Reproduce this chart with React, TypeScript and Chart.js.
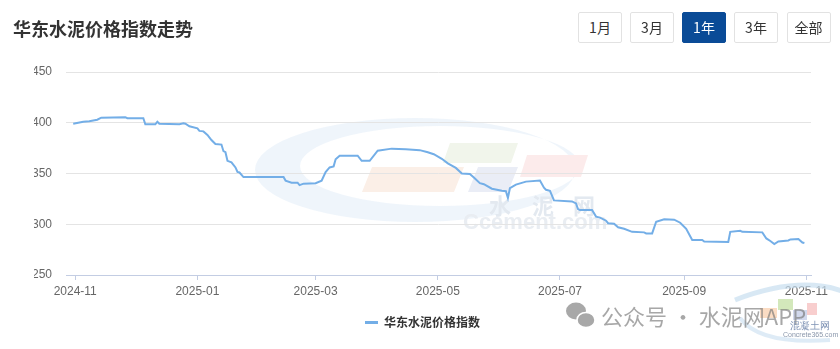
import { useEffect, useRef } from "react";
import { Chart, registerables } from "chart.js";

Chart.register(...registerables);

// ---- data ---------------------------------------------------------------
const seriesName = "华东水泥价格指数";

const dates = [
  "2024-10-31", "2024-11-05", "2024-11-08", "2024-11-12", "2024-11-14", "2024-11-26",
  "2024-11-27", "2024-12-05", "2024-12-06", "2024-12-11", "2024-12-12", "2024-12-13",
  "2024-12-23", "2024-12-25", "2024-12-26", "2024-12-28", "2025-01-01", "2025-01-02",
  "2025-01-04", "2025-01-06", "2025-01-08", "2025-01-10", "2025-01-13", "2025-01-14",
  "2025-01-15", "2025-01-16", "2025-01-18", "2025-01-20", "2025-01-21", "2025-01-22",
  "2025-01-24", "2025-02-13", "2025-02-14", "2025-02-17", "2025-02-20", "2025-02-21",
  "2025-02-23", "2025-03-01", "2025-03-04", "2025-03-06", "2025-03-08", "2025-03-10",
  "2025-03-11", "2025-03-13", "2025-03-22", "2025-03-24", "2025-03-28", "2025-04-01",
  "2025-04-08", "2025-04-15", "2025-04-22", "2025-04-26", "2025-04-29", "2025-05-03",
  "2025-05-06", "2025-05-10", "2025-05-13", "2025-05-17", "2025-05-19", "2025-05-22",
  "2025-05-24", "2025-05-28", "2025-06-02", "2025-06-04", "2025-06-05", "2025-06-06",
  "2025-06-09", "2025-06-14", "2025-06-21", "2025-06-23", "2025-06-24", "2025-06-26",
  "2025-06-28", "2025-07-07", "2025-07-09", "2025-07-10", "2025-07-11", "2025-07-17",
  "2025-07-19", "2025-07-21", "2025-07-24", "2025-07-25", "2025-07-28", "2025-07-30",
  "2025-08-02", "2025-08-06", "2025-08-12", "2025-08-13", "2025-08-16", "2025-08-18",
  "2025-08-22", "2025-08-27", "2025-08-30", "2025-09-02", "2025-09-05", "2025-09-10",
  "2025-09-11", "2025-09-23", "2025-09-24", "2025-09-29", "2025-09-30", "2025-10-10",
  "2025-10-12", "2025-10-14", "2025-10-16", "2025-10-18", "2025-10-23", "2025-10-24",
  "2025-10-28", "2025-10-30", "2025-10-31",
];

const values = [
  399, 401, 401.5, 403, 405, 405.5,
  404.5, 404.5, 398.5, 398.5, 401, 399,
  398.5, 399.5, 399, 396.5, 394.5, 392,
  391.5, 388, 383, 379, 378.5, 372,
  371, 362.5, 361, 356, 351.5, 351,
  346.5, 346.5, 343, 341, 341, 338.5,
  340, 340.5, 343, 351.5, 356, 357,
  364, 367.5, 367.5, 362.5, 362.5, 372.5,
  374.5, 374, 373, 371, 369, 364.5,
  360, 355.5, 350, 349.5, 346, 340.5,
  339.5, 335, 333, 332.5, 326, 335.5,
  339, 342, 343, 336, 334, 333,
  323.5, 322.5, 320.5, 315, 314, 314,
  307.5, 306.5, 303.5, 301, 300.5, 297,
  295.5, 292.5, 292, 291, 291, 302.5,
  305, 304.5, 301.5, 295.5, 284.5, 284.5,
  283, 282.5, 292.5, 293.5, 292.5, 292,
  286, 283.5, 280.5, 283, 284, 285,
  285.5, 282, 281.5,
];

const monthTicks = ["2024-11", "2025-01", "2025-03", "2025-05", "2025-07", "2025-09", "2025-11"];
const yMin = 250;
const yMax = 450;
const yStep = 50;

const rangeButtons = ["1月", "3月", "1年", "3年", "全部"];
const activeRange = "1年";

// ---- helpers ------------------------------------------------------------
const ORIGIN = Date.UTC(2024, 10, 1);
const dayOf = (s: string) => {
  const [y, m, d] = s.split("-").map(Number);
  return (Date.UTC(y, m - 1, d || 1) - ORIGIN) / 86400000;
};

const points = dates.map((d, i) => ({ x: dayOf(d), y: values[i] }));
const tickDays = monthTicks.map(dayOf);

const LINE = "#73aee7";
const AXIS = "#c3cde3";
const LABEL_FONT = "'Liberation Sans', Arial, sans-serif";
const CJK_FONT = "'Noto Sans CJK SC', 'Noto Sans', sans-serif";

// faint site logo behind the plot
const brandMark = {
  id: "brandMark",
  beforeDraw(chart: Chart) {
    const ctx = chart.ctx;
    ctx.save();
    ctx.beginPath();
    ctx.ellipse(415, 170, 160, 52, 0, 0, Math.PI * 2);
    ctx.moveTo(580, 166);
    ctx.ellipse(440, 166, 140, 40, 0, 0, Math.PI * 2);
    ctx.fillStyle = "rgba(226,237,247,0.55)";
    ctx.fill("evenodd");

    const tile = (x1: number, x2: number, top: number, bottom: number, shift: number, color: string) => {
      ctx.beginPath();
      ctx.moveTo(x1, top);
      ctx.lineTo(x2, top);
      ctx.lineTo(x2 - shift, bottom);
      ctx.lineTo(x1 - shift, bottom);
      ctx.closePath();
      ctx.fillStyle = color;
      ctx.fill();
    };
    tile(372, 464, 167, 192, 10, "#fbefe7");
    tile(450, 518, 143, 163, 7, "#f1f5eb");
    tile(478, 518, 167, 192, 10, "#eaedf6");
    tile(527, 588, 155, 177, 7, "#fcebeb");

    ctx.fillStyle = "#e3e9f0";
    ctx.font = `bold 22px ${CJK_FONT}`;
    ctx.textAlign = "center";
    ctx.textBaseline = "middle";
    ctx.fillText("水", 500, 206);
    ctx.fillText("泥", 543, 206);
    ctx.fillText("网", 584, 206);
    ctx.fillStyle = "#e9edf2";
    ctx.font = `bold 22px ${LABEL_FONT}`;
    ctx.textAlign = "left";
    ctx.fillText("Ccement.com", 463, 223);
    ctx.restore();
  },
};

export default function App() {
  const canvasRef = useRef<HTMLCanvasElement | null>(null);

  useEffect(() => {
    document.body.style.margin = "0";
    const canvas = canvasRef.current;
    if (!canvas) return;
    const chart = new Chart(canvas, {
      type: "line",
      data: {
        datasets: [
          {
            label: seriesName,
            data: points,
            borderColor: LINE,
            backgroundColor: LINE,
            borderWidth: 2,
            pointRadius: 0,
            pointHoverRadius: 0,
            tension: 0,
            fill: false,
          },
        ],
      },
      options: {
        responsive: false,
        animation: false,
        events: [],
        layout: { padding: { top: 72, right: 29, bottom: 10.5, left: 34 } },
        scales: {
          x: {
            type: "linear",
            min: points[0].x - 3.6,
            max: points[points.length - 1].x + 3.3,
            afterBuildTicks: (scale: any) => {
              scale.ticks = tickDays.map((v) => ({ value: v }));
            },
            afterFit: (scale: any) => {
              scale.height = 31.5;
            },
            ticks: {
              autoSkip: false,
              maxRotation: 0,
              padding: 4,
              color: "#666",
              font: { family: LABEL_FONT, size: 12 },
              callback: (v: any) => {
                const i = tickDays.indexOf(Number(v));
                return i >= 0 ? monthTicks[i] : "";
              },
            },
            grid: {
              drawOnChartArea: false,
              drawTicks: true,
              tickLength: 5,
              color: AXIS,
            },
            border: { display: true, color: AXIS, width: 1 },
          },
          y: {
            min: yMin,
            max: yMax,
            afterFit: (scale: any) => {
              scale.width = 32;
            },
            ticks: {
              stepSize: yStep,
              padding: 14,
              color: "#666",
              font: { family: LABEL_FONT, size: 12 },
            },
            grid: {
              drawTicks: false,
              color: (c: any) => (c.tick && c.tick.value === yMin ? "rgba(0,0,0,0)" : "#e4e4e4"),
            },
            border: { display: false },
          },
        },
        plugins: {
          tooltip: { enabled: false },
          legend: {
            display: true,
            position: "bottom",
            labels: {
              boxWidth: 13,
              boxHeight: 3,
              padding: 10,
              color: "#333",
              font: { family: CJK_FONT, size: 12, weight: "bold" },
              generateLabels: (ch: Chart) =>
                Chart.defaults.plugins.legend.labels
                  .generateLabels(ch)
                  .map((item: any) => ({ ...item, lineWidth: 0, fillStyle: LINE })),
            },
          },
        },
      },
      plugins: [brandMark],
    });
    return () => chart.destroy();
  }, []);

  const btnLeft = [578, 630, 682, 734, 786.5];

  return (
    <div
      style={{
        position: "fixed",
        left: 0,
        top: 0,
        width: 840,
        height: 349,
        background: "#fff",
        overflow: "hidden",
        fontFamily: CJK_FONT,
      }}
    >
      <canvas ref={canvasRef} width={840} height={349} style={{ position: "absolute", left: 0, top: 0 }} />
      <div
        style={{
          position: "absolute",
          left: 13,
          top: 18,
          fontSize: 18,
          lineHeight: "20px",
          fontWeight: 700,
          color: "#333",
          whiteSpace: "nowrap",
        }}
      >
        华东水泥价格指数走势
      </div>
      {rangeButtons.map((b, i) => {
        const on = b === activeRange;
        return (
          <div
            key={b}
            style={{
              position: "absolute",
              left: btnLeft[i],
              top: 12,
              width: 44,
              height: 31,
              boxSizing: "border-box",
              border: on ? "1px solid #0a4b97" : "1px solid #e2e2e2",
              borderRadius: 2,
              background: on ? "#0a4b97" : "#fff",
              color: on ? "#fff" : "#333",
              fontSize: 14,
              lineHeight: "29px",
              textAlign: "center",
            }}
          >
            {b}
          </div>
        );
      })}
      {/* channel mark in the lower right corner */}
      <svg width={840} height={349} style={{ position: "absolute", left: 0, top: 0, pointerEvents: "none" }}>
        <path d="M 735 300 Q 800 275 845 292" stroke="rgba(200,222,240,0.7)" strokeWidth={5} fill="none" />
        <path d="M 740 318 Q 760 345 830 340" stroke="rgba(200,222,240,0.6)" strokeWidth={4} fill="none" />
        <rect x={778} y={299} width={15} height={11} fill="rgba(200,226,170,0.8)" />
        <rect x={760} y={308} width={17} height={10} fill="rgba(250,205,170,0.7)" />
        <rect x={807} y={303} width={10} height={12} fill="rgba(245,185,185,0.7)" />
        <rect x={793} y={310} width={14} height={10} fill="rgba(190,200,230,0.7)" />
        <ellipse cx={576} cy={311} rx={10} ry={8.5} fill="#a8a8a8" />
        <ellipse cx={586} cy={320} rx={9} ry={7.5} fill="#a8a8a8" stroke="#fff" strokeWidth={1.5} />
      </svg>
      <div
        style={{
          position: "absolute",
          left: 601,
          top: 302,
          fontSize: 22,
          lineHeight: "26px",
          color: "rgba(120,120,120,0.65)",
          whiteSpace: "nowrap",
        }}
      >
        公众号 · 水泥网APP
      </div>
      <div
        style={{
          position: "absolute",
          left: 790,
          top: 320,
          fontSize: 10,
          lineHeight: "12px",
          color: "#7f93b5",
          fontFamily: "'DejaVu Serif', serif",
          whiteSpace: "nowrap",
        }}
      >
        混凝土网
      </div>
      <div
        style={{
          position: "absolute",
          left: 783,
          top: 331,
          fontSize: 7,
          lineHeight: "8px",
          color: "#8a97ab",
          fontFamily: LABEL_FONT,
          whiteSpace: "nowrap",
        }}
      >
        Concrete365.com
      </div>
    </div>
  );
}
